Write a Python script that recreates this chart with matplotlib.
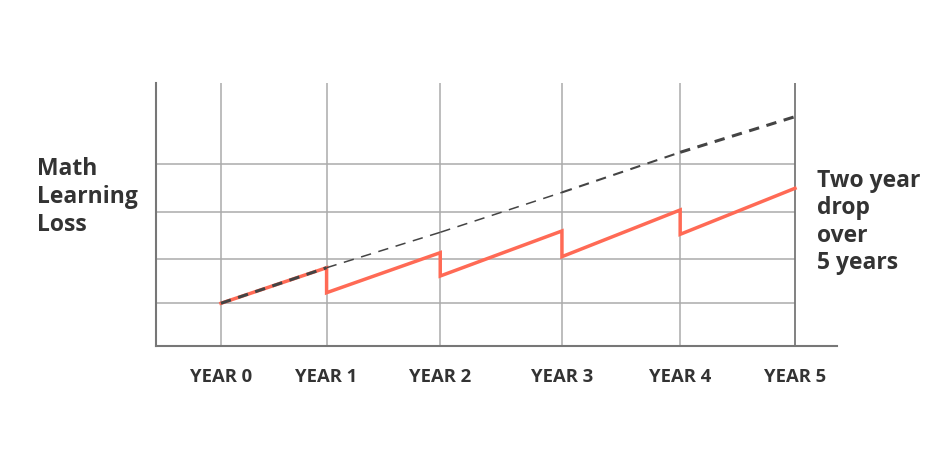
import matplotlib
matplotlib.use("Agg")
import matplotlib.pyplot as plt

plt.rcParams['font.family'] = ['Open Sans', 'DejaVu Sans']
plt.rcParams['lines.scale_dashes'] = False

# ---- data ----
year_labels = ["YEAR 0", "YEAR 1", "YEAR 2", "YEAR 3", "YEAR 4", "YEAR 5"]
year_pos = [0.0, 0.92, 1.91, 2.97, 4.0, 5.0]
red_start = 0.975
red_peaks = [1.786, 2.129, 2.624, 3.103, 3.598]   # value just before each year's drop
red_drops = [1.216, 1.597, 2.038, 2.548]          # value right after the drop (years 1-4)
expected = [0.975, 1.786, 2.594, 3.504, 4.419, 5.232]
grid_levels = [0.98, 1.985, 3.06, 4.15]
expected_widths = [2.2, 1.1, 1.1, 1.5, 2.2]

left_label = "Math\nLearning\nLoss"
right_label = "Two year\ndrop\nover\n5 years"

RED = "#FF6A55"
DARK = "#444444"
GRID = "#ABABAB"
AXIS = "#777777"
TEXT = "#333333"

fig = plt.figure(figsize=(9.5, 4.71), dpi=100)
ax = fig.add_axes([156/950, 1-346/471, (837-156)/950, (346-83)/471])
ax.set_xlim(-0.566, 5.366)
ax.set_ylim(0, 6.0)

# grid
for g in grid_levels:
    ax.plot([ax.get_xlim()[0], year_pos[-1]], [g, g], color=GRID, lw=1.1, zorder=1,
            solid_capstyle='butt')
for i, xp in enumerate(year_pos):
    ax.axvline(xp, color=(AXIS if i == len(year_pos)-1 else GRID),
               lw=(1.3 if i == len(year_pos)-1 else 1.1), zorder=1)

# red sawtooth
rx = [year_pos[0]]
ry = [red_start]
for i in range(1, len(year_pos)):
    rx.append(year_pos[i]); ry.append(red_peaks[i-1])
    if i - 1 < len(red_drops):
        rx.append(year_pos[i]); ry.append(red_drops[i-1])
ax.plot(rx, ry, color=RED, lw=2.5, zorder=3, solid_joinstyle='miter')

# expected (dashed) line
for i in range(len(year_pos)-1):
    ax.plot(year_pos[i:i+2], expected[i:i+2], color=DARK, lw=expected_widths[i],
            dashes=(7.5, 5.5), zorder=4, dash_capstyle='butt')

# axes styling
for s in ['top', 'right']:
    ax.spines[s].set_visible(False)
for s in ['left', 'bottom']:
    ax.spines[s].set_color(AXIS)
    ax.spines[s].set_linewidth(1.5)
ax.set_yticks([])
ax.set_xticks(year_pos)
ax.set_xticklabels(year_labels, fontsize=13.3, fontweight='bold', color=TEXT)
ax.tick_params(axis='x', length=0, pad=15.5)

fig.text(37/950, 1-157/471, left_label, fontsize=16.5, fontweight='bold', color=TEXT,
         va='top', ha='left', linespacing=1.23)
fig.text(817/950, 1-169/471, right_label, fontsize=16.5, fontweight='bold', color=TEXT,
         va='top', ha='left', linespacing=1.19)

fig.savefig("out.png", dpi=100, facecolor='white')
